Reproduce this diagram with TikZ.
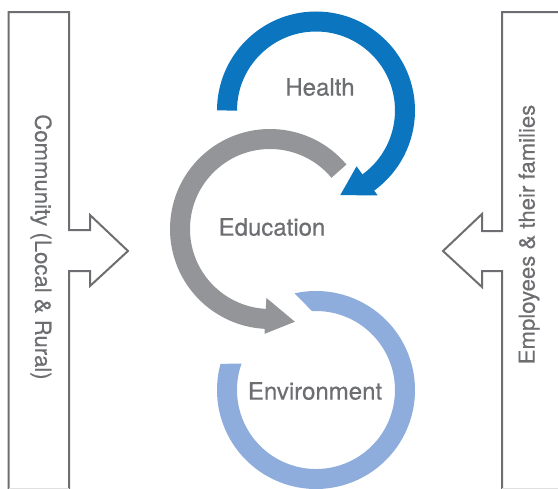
\documentclass[tikz,border=0pt]{standalone}
\usepackage{fontspec}
\setmainfont{TeX Gyre Heros}[FakeBold=0.4]
\usetikzlibrary{calc}

\definecolor{healthblue}{RGB}{12,117,191}
\definecolor{edugray}{RGB}{147,149,152}
\definecolor{envblue}{RGB}{143,173,220}
\definecolor{textgray}{RGB}{109,110,113}

\begin{document}
\begin{tikzpicture}[x=0.75pt,y=0.75pt,yscale=-1,xscale=1,
  sidebox/.style={draw=textgray, line width=1.5pt, line join=miter},
  ringlabel/.style={text=textgray, font=\fontsize{18}{20}\selectfont},
  sidelabel/.style={text=textgray, font=\fontsize{16.6}{18}\selectfont}]

\useasboundingbox (0,0) rectangle (558,489);

% centres of the rings
\coordinate (hc) at (316,110.5);
\coordinate (ec) at (270,229);
\coordinate (nc) at (316,390);

% Health ring
\draw [healthblue, line width=15pt] ($(hc)+(180:89)$) arc [start angle=180, end angle=414.5, radius=89];
\fill [healthblue] ($(hc)+(54:69)$) -- ($(hc)+(74:88)$) -- ($(hc)+(54:105)$) -- cycle;
\node [ringlabel] (health) at (320,87) {Health};

% Education ring
\draw [edugray, line width=15pt] ($(ec)+(-40:90)$) arc [start angle=-40, end angle=-267.5, radius=90];
\fill [edugray] ($(ec)+(93:69)$) -- ($(ec)+(75:96)$) -- ($(ec)+(93:105)$) -- cycle;
\node [ringlabel] (education) at (272,227) {Education};

% Environment ring
\fill [envblue] ($(nc)+(-102.5:99)$) arc [start angle=-102.5, end angle=195.3, radius=99]
  -- ($(nc)+(199.6:79)$) arc [start angle=199.6, end angle=-92.9, radius=79] -- cycle;
\node [ringlabel] (environment) at (315,391) {Environment};

% left side box
\draw [sidebox] (8.5,489) -- (8.5,12) -- (69,12) -- (69,230) -- (90,230) -- (90,215) -- (128,251)
  -- (90,286) -- (90,271) -- (69,271) -- (69,489);
\draw [black!12, line width=0.75pt] (8.5,488.5) -- (69,488.5);
\node [sidelabel, rotate=-90] (community) at (41,247) {Community (Local \& Rural)};

% right side box
\draw [sidebox] (558,12) -- (502,12) -- (502,231) -- (482,231) -- (482,214) -- (443,251)
  -- (482,287) -- (482,271) -- (502,271) -- (502,489);
\draw [black!12, line width=0.75pt] (502,488.5) -- (558,488.5);
\node [sidelabel, rotate=90] (employees) at (529,234.5) {Employees \& their families};

\end{tikzpicture}
\end{document}
